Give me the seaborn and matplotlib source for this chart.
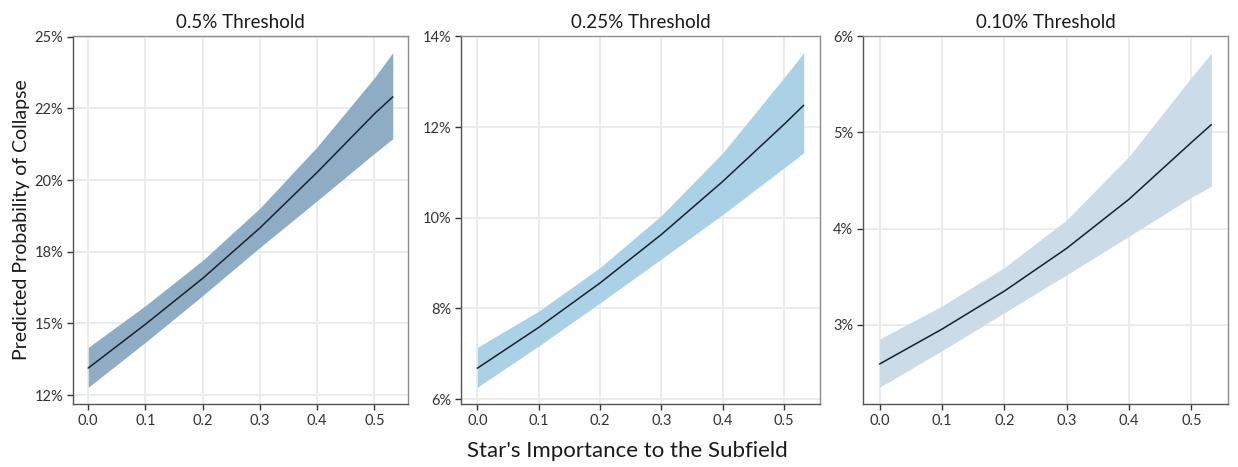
import numpy as np
import pandas as pd
import matplotlib
matplotlib.use("Agg")
import matplotlib.pyplot as plt
import seaborn as sns

# ---------------- data ----------------
x_vals = [0.0, 0.1, 0.2, 0.3, 0.4, 0.5, 0.532]

p1_fit = [0.1344, 0.1497, 0.1657, 0.1833, 0.2027, 0.2231, 0.2290]
p1_hi = [0.1416, 0.1562, 0.1720, 0.1902, 0.2116, 0.2357, 0.2444]
p1_lo = [0.1277, 0.1434, 0.1597, 0.1765, 0.1928, 0.2093, 0.2144]

p2_fit = [0.0668, 0.0758, 0.0856, 0.0963, 0.1080, 0.1206, 0.1248]
p2_hi = [0.0714, 0.0794, 0.0890, 0.1005, 0.1143, 0.1309, 0.1364]
p2_lo = [0.0626, 0.0717, 0.0812, 0.0909, 0.1007, 0.1110, 0.1143]

p3_fit = [0.02593, 0.02955, 0.03350, 0.03795, 0.04305, 0.04895, 0.0508]
p3_hi = [0.02852, 0.03195, 0.03595, 0.04090, 0.04750, 0.05570, 0.05823]
p3_lo = [0.02351, 0.02731, 0.03125, 0.03520, 0.03920, 0.04325, 0.0444]

titles = ["0.5% Threshold", "0.25% Threshold", "0.10% Threshold"]

x_ticks = [0.0, 0.1, 0.2, 0.3, 0.4, 0.5]
x_ticklabels = ["0.0", "0.1", "0.2", "0.3", "0.4", "0.5"]

p1_yticks = [0.125, 0.15, 0.175, 0.2, 0.225, 0.25]
p1_yticklabels = ["12%", "15%", "18%", "20%", "22%", "25%"]
p2_yticks = [0.06, 0.08, 0.10, 0.12, 0.14]
p2_yticklabels = ["6%", "8%", "10%", "12%", "14%"]
p3_yticks = [0.03, 0.04, 0.05, 0.06]
p3_yticklabels = ["3%", "4%", "5%", "6%"]

fills = ["#8eadc5", "#abd1e6", "#cbdbe7"]

panels = [
    (p1_fit, p1_lo, p1_hi, p1_yticks, p1_yticklabels),
    (p2_fit, p2_lo, p2_hi, p2_yticks, p2_yticklabels),
    (p3_fit, p3_lo, p3_hi, p3_yticks, p3_yticklabels),
]

# ---------------- styling ----------------
sns.set_theme(style="whitegrid")
plt.rcParams["font.family"] = ["Lato", "DejaVu Sans"]

fig = plt.figure(figsize=(12.38, 4.67), dpi=100)
W, H = 1238, 467
boxes = [(73, 36, 408, 404), (461, 36, 820, 404), (863, 36, 1228, 404)]

for i, ((fit, lo, hi, yt, ytl), (l, t, r, b)) in enumerate(zip(panels, boxes)):
    ax = fig.add_axes([l / W, 1 - b / H, (r - l) / W, (b - t) / H])
    df = pd.DataFrame({"x": x_vals, "fit": fit, "lo": lo, "hi": hi})
    ax.fill_between(df["x"], df["lo"], df["hi"], color=fills[i], lw=0, zorder=2)
    sns.lineplot(data=df, x="x", y="fit", ax=ax, color="#16222e", lw=1.1, zorder=3)
    xr = max(x_vals)
    ax.set_xlim(-0.05 * xr, xr * 1.05)
    ymin, ymax = min(lo), max(hi)
    pad = 0.05 * (ymax - ymin)
    ax.set_ylim(ymin - pad, ymax + pad)
    ax.set_xticks(x_ticks)
    ax.set_xticklabels(x_ticklabels)
    ax.set_yticks(yt)
    ax.set_yticklabels(ytl)
    ax.set_xlabel("")
    ax.set_ylabel("")
    ax.set_facecolor("white")
    ax.grid(True, color="#ebebeb", lw=1.3)
    ax.set_axisbelow(True)
    for s in ax.spines.values():
        s.set_color("#8c8c8c")
        s.set_linewidth(1.0)
    ax.spines["left"].set_color("#555555")
    ax.spines["bottom"].set_color("#555555")
    ax.tick_params(axis="both", which="major", direction="out", length=4,
                   width=1, color="#333333", labelsize=10.5, labelcolor="#333333",
                   pad=3, bottom=True, left=True)
    ax.set_title(titles[i], fontsize=13.5, color="#1a1a1a", pad=6)

fig.text(627 / W, 1 - 451 / H, "Star's Importance to the Subfield", ha="center",
         va="center", fontsize=16, color="#1a1a1a")
fig.text(22 / W, 1 - 220 / H, "Predicted Probability of Collapse", ha="center",
         va="center", rotation=90, fontsize=14, color="#1a1a1a")

fig.savefig("out.png", dpi=100, facecolor="white")
